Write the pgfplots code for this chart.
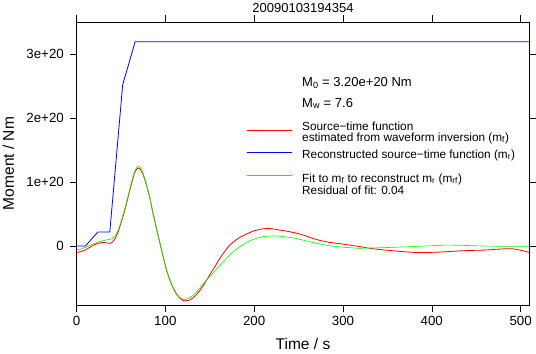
\documentclass[border=0pt]{standalone}
\usepackage{fontspec}
\setmainfont{Liberation Sans}
\usepackage{pgfplots}
\pgfplotsset{compat=1.18}
\begin{document}
\begin{tikzpicture}[x=1bp,y=1bp]
\begin{axis}[
  at={(76.5bp,48bp)}, anchor=south west,
  scale only axis, width=453bp, height=283bp,
  xmin=0, xmax=510, ymin=-0.92e20, ymax=3.5e20,
  axis line style={line width=0.8bp},
  scaled y ticks=false, scaled x ticks=false,
  xtick={0,100,200,300,400,500},
  xticklabels={0,100,200,300,400,500},
  ytick={0,1e20,2e20,3e20},
  yticklabels={0,1e+20,2e+20,3e+20},
  tick align=outside, tick pos=both,
  major tick length=6.5bp,
  tick style={black, line width=0.6bp},
  xticklabel pos=left, yticklabel pos=left,
  ticklabel style={font=\fontsize{13.3bp}{15bp}\selectfont, inner sep=0pt},
  yticklabel style={anchor=east, xshift=-6bp},
  xticklabel style={anchor=north, yshift=-5bp},
  /pgf/number format/assume math mode=true,
]
\addplot[red, line width=0.8bp] coordinates {
(0,-0.10e20) (5,-0.085e20) (10,-0.06e20) (15,-0.02e20) (20,0.02e20) (25,0.045e20)
(30,0.058e20) (35,0.048e20) (38,0.042e20) (41,0.07e20) (44,0.13e20) (47,0.225e20)
(51,0.40e20) (54.5,0.565e20) (58,0.76e20) (62,0.98e20) (65,1.13e20) (68,1.21e20)
(70,1.22e20) (72,1.20e20) (75,1.12e20) (78.5,0.97e20) (82.6,0.75e20) (86,0.52e20)
(90,0.28e20) (94,0.04e20) (97.6,-0.17e20) (101,-0.36e20) (105,-0.53e20) (109,-0.66e20)
(112.5,-0.75e20) (116,-0.81e20) (120,-0.85e20) (123,-0.855e20) (127,-0.845e20)
(131,-0.81e20) (135,-0.76e20) (139,-0.69e20) (143,-0.61e20) (147,-0.52e20)
(150,-0.45e20) (155,-0.34e20) (161,-0.20e20) (167,-0.08e20) (172.5,0.016e20)
(178,0.08e20) (183.7,0.135e20) (190,0.18e20) (195,0.21e20) (200,0.24e20)
(206,0.26e20) (211,0.272e20) (217,0.276e20) (223,0.265e20) (229,0.25e20)
(238,0.23e20) (247,0.205e20) (256,0.17e20) (266,0.12e20) (275,0.085e20)
(285,0.058e20) (295,0.04e20) (303,0.026e20) (310,0.01e20) (320,-0.01e20)
(330,-0.035e20) (343,-0.055e20) (356,-0.073e20) (370,-0.09e20) (382,-0.1e20)
(395,-0.1e20) (408,-0.094e20) (420,-0.085e20) (434,-0.073e20) (448,-0.066e20)
(461,-0.062e20) (472,-0.05e20) (483,-0.042e20) (490,-0.04e20) (495,-0.05e20)
(502,-0.07e20) (510,-0.1e20)
};
\addplot[blue, line width=0.8bp] coordinates {
(0,0) (10,0) (24,0.22e20) (37.5,0.22e20) (52,2.52e20) (66,3.19e20) (510,3.19e20)
};
\addplot[green, line width=0.6bp] coordinates {
(0,-0.06e20) (5,-0.045e20) (10,-0.02e20) (15,0.01e20) (20,0.04e20) (25,0.065e20)
(30,0.085e20) (35,0.10e20) (40,0.115e20) (44,0.16e20) (47,0.25e20) (51,0.42e20)
(54.5,0.59e20) (58,0.78e20) (62,1.00e20) (65,1.15e20) (68,1.235e20) (70,1.245e20)
(72,1.225e20) (75,1.14e20) (78.5,0.98e20) (82.6,0.76e20) (86,0.53e20) (90,0.29e20)
(94,0.05e20) (97.6,-0.16e20) (101,-0.35e20) (105,-0.52e20) (109,-0.65e20)
(112.5,-0.74e20) (116,-0.80e20) (120,-0.83e20) (124,-0.83e20) (128,-0.80e20)
(131,-0.77e20) (135,-0.72e20) (139,-0.65e20) (143,-0.58e20) (147,-0.52e20)
(150,-0.48e20) (155,-0.40e20) (161,-0.31e20) (167,-0.22e20) (172.5,-0.14e20)
(178,-0.07e20) (183.7,-0.01e20) (190,0.04e20) (195,0.083e20) (200,0.11e20)
(206,0.135e20) (211,0.15e20) (217,0.156e20) (223,0.158e20) (229,0.155e20)
(238,0.14e20) (247,0.12e20) (256,0.09e20) (266,0.058e20) (275,0.03e20)
(285,0.005e20) (295,-0.01e20) (303,-0.02e20) (318,-0.035e20) (330,-0.03e20)
(343,-0.025e20) (356,-0.02e20) (370,-0.012e20) (382,-0.005e20) (400,0.005e20)
(416,0.016e20) (430,0.013e20) (438,0.01e20) (450,0.005e20) (461,0)
(480,-0.003e20) (510,-0.005e20)
};
\end{axis}
% title and axis labels
\node[anchor=base, inner sep=0pt, font=\fontsize{13bp}{15bp}\selectfont] at (303,341) {20090103194354};
\node[anchor=base, inner sep=0pt, font=\fontsize{15.5bp}{18bp}\selectfont] at (303,3.6) {Time / s};
\node[anchor=base, rotate=90, inner sep=0pt, font=\fontsize{15.5bp}{18bp}\selectfont] at (13.8,189.5) {Moment / Nm};
% annotations
\node[anchor=base west, inner sep=0pt, font=\fontsize{13bp}{15bp}\selectfont] at (302,266.5) {M\textsubscript{0} = 3.20e+20 Nm};
\node[anchor=base west, inner sep=0pt, font=\fontsize{13bp}{15bp}\selectfont] at (302,246) {M\textsubscript{w} = 7.6};
\begin{scope}[font=\fontsize{11.8bp}{14bp}\selectfont]
\draw[red, line width=0.8bp] (246.7,223) -- (291.7,223);
\draw[blue, line width=0.8bp] (246.7,200.3) -- (291.7,200.3);
\draw[green, line width=0.6bp] (246.7,178) -- (291.7,178);
\node[anchor=base west, inner sep=0pt] at (302,223) {Source−time function};
\node[anchor=base west, inner sep=0pt] at (302,212) {estimated from waveform inversion (m\textsubscript{f})};
\node[anchor=base west, inner sep=0pt] at (302,195) {Reconstructed source−time function (m\textsubscript{r})};
\node[anchor=base west, inner sep=0pt] at (302,171) {Fit to m\textsubscript{f} to reconstruct m\textsubscript{r} (m\textsubscript{rf})};
\node[anchor=base west, inner sep=0pt] at (302,159) {Residual of fit: 0.04};
\end{scope}
\pgfresetboundingbox
\useasboundingbox (0,0) rectangle (536,353);
\end{tikzpicture}
\end{document}
